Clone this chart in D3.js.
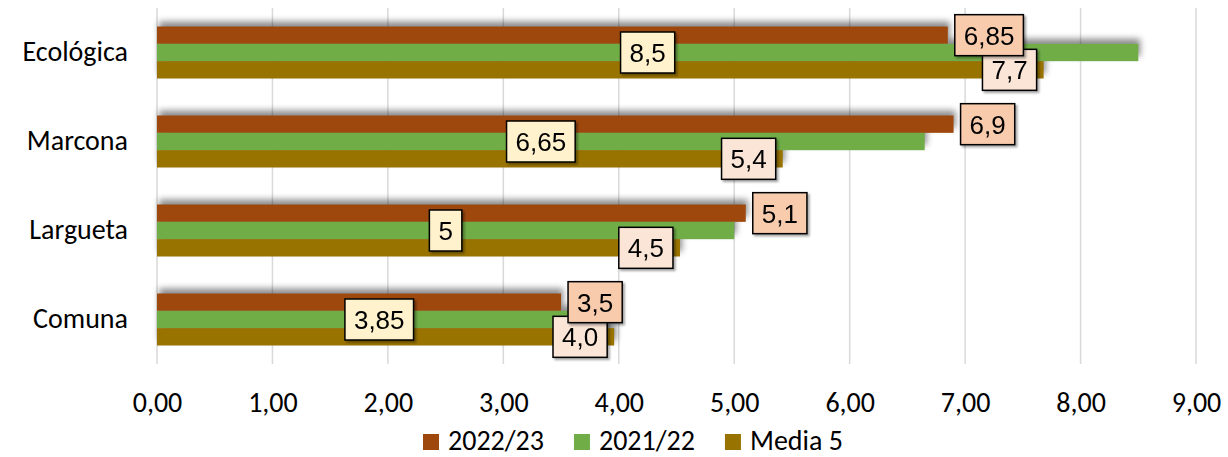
<!DOCTYPE html>
<html>
<head>
<meta charset="utf-8">
<script src="https://cdn.jsdelivr.net/npm/d3@7"></script>
<style>
  html, body { margin: 0; padding: 0; background: #fff; }
</style>
</head>
<body>
<div id="chart"></div>
<script>
// data
const categories = ["Ecológica", "Marcona", "Largueta", "Comuna"]
const seriesNames = ["2022/23", "2021/22", "Media 5"]
const serie2223 = [6.85, 6.9, 5.1, 3.5]
const serie2122 = [8.5, 6.65, 5, 3.85]
const serieMedia5 = [7.68, 5.42, 4.53, 3.96]
const xTicks = [0, 1, 2, 3, 4, 5, 6, 7, 8, 9]

const colors = ["#9e480e", "#70ad47", "#997300"]
const labelFills = ["#f8cbad", "#fff2cc", "#fbe5d6"]

var width = 1228
var height = 457
var seriesValues = [serie2223, serie2122, serieMedia5]

// Calibri look-alike: Carlito if present, otherwise Lato slightly smaller
function hasFont(name) {
    var ctx = document.createElement("canvas").getContext("2d")
    ctx.font = "28px monospace"
    var a = ctx.measureText("2022/23 Ecológica").width
    ctx.font = "28px '" + name + "', monospace"
    var b = ctx.measureText("2022/23 Ecológica").width
    return a !== b
}
var calFont = hasFont("Carlito") ? "Carlito" : "Lato"
var calSize = calFont === "Carlito" ? 28 : 25
var labelFont = "'Liberation Sans', Arial, sans-serif"
var labelSize = 26

const svg = d3.select("#chart")
    .append("svg")
    .attr("width", width)
    .attr("height", height)

var defs = svg.append("defs")
var sh = defs.append("filter").attr("id", "barShadow")
    .attr("x", "-10%").attr("y", "-60%").attr("width", "120%").attr("height", "220%")
sh.append("feGaussianBlur").attr("in", "SourceAlpha").attr("stdDeviation", 3)
sh.append("feOffset").attr("dx", 2).attr("dy", -5).attr("result", "off")
sh.append("feFlood").attr("flood-color", "#000").attr("flood-opacity", 0.45)
sh.append("feComposite").attr("in2", "off").attr("operator", "in")

var lsh = defs.append("filter").attr("id", "labelShadow")
    .attr("x", "-20%").attr("y", "-20%").attr("width", "140%").attr("height", "140%")
lsh.append("feGaussianBlur").attr("in", "SourceAlpha").attr("stdDeviation", 1)
lsh.append("feOffset").attr("dx", 1.5).attr("dy", 1.5).attr("result", "off")
lsh.append("feFlood").attr("flood-color", "#000").attr("flood-opacity", 0.35)
lsh.append("feComposite").attr("in2", "off").attr("operator", "in").attr("result", "s")
var lm = lsh.append("feMerge")
lm.append("feMergeNode").attr("in", "s")
lm.append("feMergeNode").attr("in", "SourceGraphic")

var xScale = d3.scaleLinear()
    .domain([0, 9])
    .range([157, 1196])

var yScale = d3.scaleBand()
    .domain(categories)
    .range([8, 364])
    .paddingInner(0.416)
    .paddingOuter(0.208)

var ySub = d3.scaleBand()
    .domain(seriesNames)
    .range([0, yScale.bandwidth()])

// gridlines
svg.append("g")
    .selectAll("line")
    .data(xTicks)
    .join("line")
    .attr("x1", d => xScale(d))
    .attr("x2", d => xScale(d))
    .attr("y1", 8)
    .attr("y2", 364)
    .attr("stroke", "#d9d9d9")
    .attr("stroke-width", 1.5)

var barData = []
seriesNames.forEach((s, si) => {
    categories.forEach((c, ci) => {
        barData.push({ cat: c, serie: s, si: si, value: seriesValues[si][ci] })
    })
})

function drawBars(g) {
    g.selectAll("rect")
        .data(barData)
        .join("rect")
        .attr("x", xScale(0))
        .attr("y", d => yScale(d.cat) + ySub(d.serie))
        .attr("width", d => xScale(d.value) - xScale(0))
        .attr("height", ySub.bandwidth())
        .attr("fill", d => colors[d.si])
}

// shadow layer first, then the bars
svg.append("g").attr("filter", "url(#barShadow)").call(drawBars)
svg.append("g").call(drawBars)

// x axis labels
var xAxis = d3.axisBottom(xScale)
    .tickValues(xTicks)
    .tickSize(0)
    .tickFormat(d => d.toFixed(2).replace(".", ","))
var gx = svg.append("g")
    .attr("transform", "translate(0,364)")
    .call(xAxis)
gx.select(".domain").remove()
gx.selectAll("text")
    .attr("y", 0)
    .attr("dy", null)
    .attr("transform", "translate(0,47.5)")
    .attr("font-family", calFont)
    .attr("font-size", calSize)
    .attr("fill", "#000")

// category labels
var yAxis = d3.axisLeft(yScale).tickSize(0)
var gy = svg.append("g")
    .attr("transform", "translate(128,0)")
    .call(yAxis)
gy.select(".domain").remove()
gy.selectAll("text")
    .attr("x", 0)
    .attr("dy", null)
    .attr("y", calSize * 0.32)
    .attr("font-family", calFont)
    .attr("font-size", calSize)
    .attr("fill", "#000")

// data labels
function labelText(si, v) {
    if (si === 2) return v.toFixed(1).replace(".", ",")
    return String(v).replace(".", ",")
}

var labelLayer = svg.append("g")
var labelData = barData.slice().reverse()
labelData.forEach(d => {
    var txt = labelText(d.si, d.value)
    var cy = yScale(d.cat) + ySub(d.serie) + ySub.bandwidth() / 2
    var g = labelLayer.append("g").attr("filter", "url(#labelShadow)")
    var t = g.append("text")
        .text(txt)
        .attr("font-family", labelFont)
        .attr("font-size", labelSize)
        .attr("fill", "#000")
    var tw = t.node().getComputedTextLength()
    var bw = tw + 18
    var bh = 41
    var bx
    if (d.si === 0) bx = xScale(d.value) + 7
    else if (d.si === 1) bx = xScale(d.value / 2) - bw / 2
    else bx = xScale(d.value) - 7 - bw
    g.insert("rect", "text")
        .attr("x", bx)
        .attr("y", cy - bh / 2)
        .attr("width", bw)
        .attr("height", bh)
        .attr("fill", labelFills[d.si])
        .attr("stroke", "#000")
        .attr("stroke-width", 1.5)
    t.attr("x", bx + bw / 2)
        .attr("y", cy + labelSize * 0.36)
        .attr("text-anchor", "middle")
})

// legend
var legend = svg.append("g")
var lx = 423
seriesNames.forEach((s, i) => {
    legend.append("rect")
        .attr("x", lx)
        .attr("y", 434)
        .attr("width", 16)
        .attr("height", 16)
        .attr("fill", colors[i])
    var t = legend.append("text")
        .attr("x", lx + 25)
        .attr("y", 450)
        .text(s)
        .attr("font-family", calFont)
        .attr("font-size", calSize)
        .attr("fill", "#000")
    lx += 25 + t.node().getComputedTextLength() + 30
})
</script>
</body>
</html>
